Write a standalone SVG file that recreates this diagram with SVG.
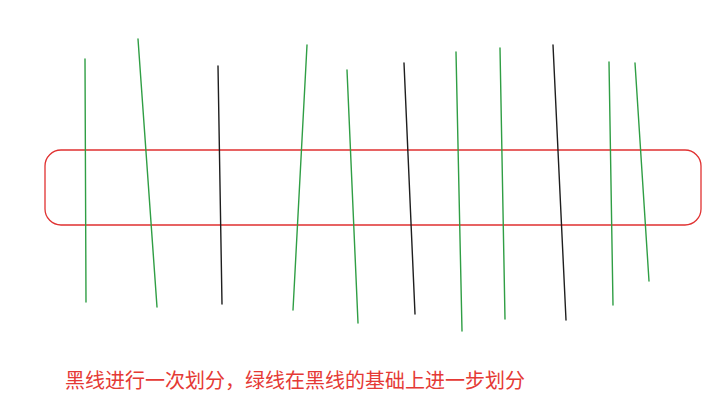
<svg xmlns="http://www.w3.org/2000/svg" width="726" height="412" viewBox="0 0 726 412">
<style>
.g{stroke:#2f9e44;stroke-width:1.4;fill:none;stroke-linecap:round}
.k{stroke:#1e1e1e;stroke-width:1.4;fill:none;stroke-linecap:round}
.r{stroke:#e03131;stroke-width:1.3;fill:none}
.t{font-family:"Noto Sans CJK SC","Noto Sans",sans-serif;font-size:20px;fill:#e53935}
</style>
<rect width="726" height="412" fill="#ffffff"/>
<g id="band">
<rect class="r" x="45" y="150" width="656" height="75" rx="16" ry="16"/>
</g>
<g id="connectors">
<line class="g" x1="85" y1="59" x2="86" y2="302"/>
<line class="g" x1="138" y1="39" x2="157" y2="307"/>
<line class="k" x1="218" y1="66" x2="222" y2="304"/>
<line class="g" x1="307" y1="45" x2="293" y2="310"/>
<line class="g" x1="347" y1="70" x2="358" y2="323"/>
<line class="k" x1="404" y1="63" x2="415" y2="314"/>
<line class="g" x1="456" y1="52" x2="462" y2="331"/>
<line class="g" x1="500" y1="48" x2="505" y2="319"/>
<line class="k" x1="553" y1="45" x2="566" y2="320"/>
<line class="g" x1="609" y1="62" x2="613" y2="305"/>
<line class="g" x1="635" y1="63" x2="649" y2="281"/>
</g>
<g id="caption">
<text class="t" x="65" y="388">黑线进行一次划分，绿线在黑线的基础上进一步划分</text>
</g>
</svg>
